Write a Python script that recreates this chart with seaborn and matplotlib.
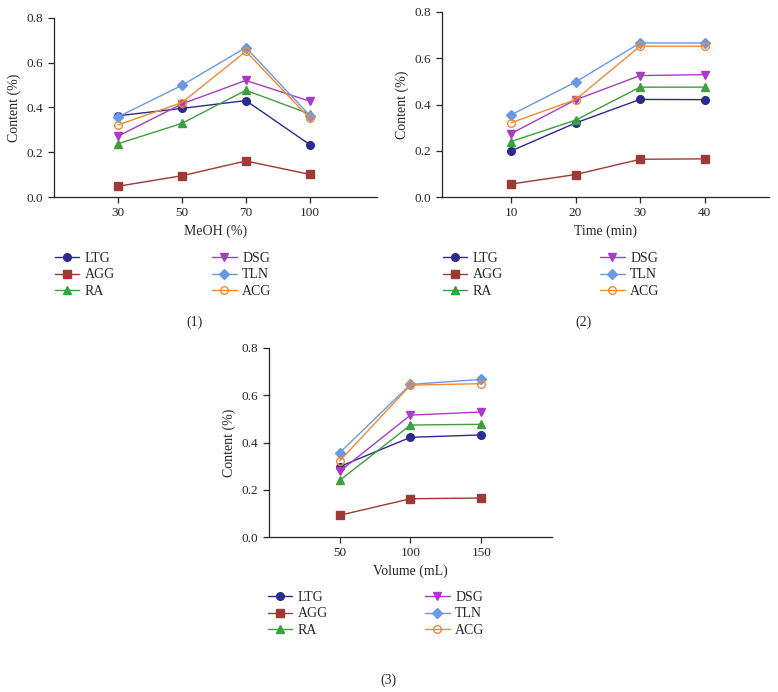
import numpy as np
import pandas as pd
import matplotlib
matplotlib.use("Agg")
import matplotlib.pyplot as plt
import seaborn as sns

# ---- data ----
compounds = ["LTG", "AGG", "RA", "DSG", "TLN", "ACG"]
colors = ["#2b2a8e", "#9b3a36", "#3ca03c", "#a83cc8", "#6a9ae6", "#f08a34"]
markers = ["o", "s", "^", "v", "D", "o"]

meoh_labels = ["30", "50", "70", "100"]
meoh_vals = {
    "LTG": [0.363, 0.396, 0.431, 0.234],
    "AGG": [0.048, 0.095, 0.161, 0.101],
    "RA":  [0.238, 0.329, 0.477, 0.371],
    "DSG": [0.272, 0.416, 0.521, 0.428],
    "TLN": [0.358, 0.499, 0.668, 0.364],
    "ACG": [0.322, 0.422, 0.651, 0.351],
}

time_x = [10, 20, 30, 40]
time_vals = {
    "LTG": [0.199, 0.320, 0.422, 0.421],
    "AGG": [0.056, 0.097, 0.163, 0.165],
    "RA":  [0.240, 0.332, 0.475, 0.475],
    "DSG": [0.274, 0.420, 0.525, 0.529],
    "TLN": [0.355, 0.497, 0.666, 0.666],
    "ACG": [0.321, 0.421, 0.652, 0.652],
}

vol_x = [50, 100, 150]
vol_vals = {
    "LTG": [0.298, 0.422, 0.432],
    "AGG": [0.092, 0.162, 0.165],
    "RA":  [0.240, 0.474, 0.477],
    "DSG": [0.278, 0.516, 0.529],
    "TLN": [0.357, 0.646, 0.667],
    "ACG": [0.322, 0.643, 0.649],
}

sns.set_style("ticks")
plt.rcParams["font.family"] = ["Liberation Serif", "DejaVu Serif"]
plt.rcParams["axes.linewidth"] = 0.9

fig = plt.figure(figsize=(7.78, 6.92), dpi=100)
W, H = 778, 692


def px_axes(left, top, right, bottom):
    return fig.add_axes([left / W, (H - bottom) / H, (right - left) / W, (bottom - top) / H])


def draw_panel(ax, x, vals, xlabel):
    for name, col, mk in zip(compounds, colors, markers):
        df = pd.DataFrame({"x": x, "y": vals[name]})
        sns.lineplot(data=df, x="x", y="y", ax=ax, color=col, marker=mk,
                     markersize=5.5 if mk != "D" else 5, linewidth=1.0,
                     markeredgecolor=col,
                     markerfacecolor="none" if name == "ACG" else col,
                     markeredgewidth=1.0, label=name, legend=False)
    ax.set_ylim(0, 0.8)
    ax.set_yticks([0, 0.2, 0.4, 0.6, 0.8])
    ax.set_yticklabels(["0.0", "0.2", "0.4", "0.6", "0.8"])
    ax.set_xlabel(xlabel, fontsize=10)
    ax.set_ylabel("Content (%)", fontsize=10)
    ax.tick_params(labelsize=9.5, length=4, width=0.9)
    sns.despine(ax=ax)


def add_legend(ax, anchor_x, anchor_y):
    handles, labels = ax.get_legend_handles_labels()
    fig.legend(handles, labels, loc="upper left",
               bbox_to_anchor=(anchor_x / W, (H - anchor_y) / H),
               ncol=2, frameon=False, fontsize=10, handlelength=1.75,
               handletextpad=0.4, columnspacing=7.0, labelspacing=0.25,
               borderpad=0, borderaxespad=0)


# (1) MeOH
ax1 = px_axes(54, 18, 377, 197)
draw_panel(ax1, list(range(len(meoh_labels))), meoh_vals, "MeOH (%)")
ax1.set_xlim(-1.0, 4.05)
ax1.set_xticks(range(len(meoh_labels)))
ax1.set_xticklabels(meoh_labels)
add_legend(ax1, 55, 252)

# (2) Time
ax2 = px_axes(442, 12, 769, 197)
draw_panel(ax2, time_x, time_vals, "Time (min)")
ax2.set_xlim(-0.7, 50)
ax2.set_xticks(time_x)
add_legend(ax2, 443, 252)

# (3) Volume
ax3 = px_axes(269, 348, 552, 537)
draw_panel(ax3, vol_x, vol_vals, "Volume (mL)")
ax3.set_xlim(0, 200)
ax3.set_xticks(vol_x)
add_legend(ax3, 268, 591)

fig.text(195 / W, 1 - 322 / H, "(1)", ha="center", va="center", fontsize=10)
fig.text(583 / W, 1 - 322 / H, "(2)", ha="center", va="center", fontsize=10)
fig.text(388 / W, 1 - 680 / H, "(3)", ha="center", va="center", fontsize=10)

fig.savefig("out.png", dpi=100)
